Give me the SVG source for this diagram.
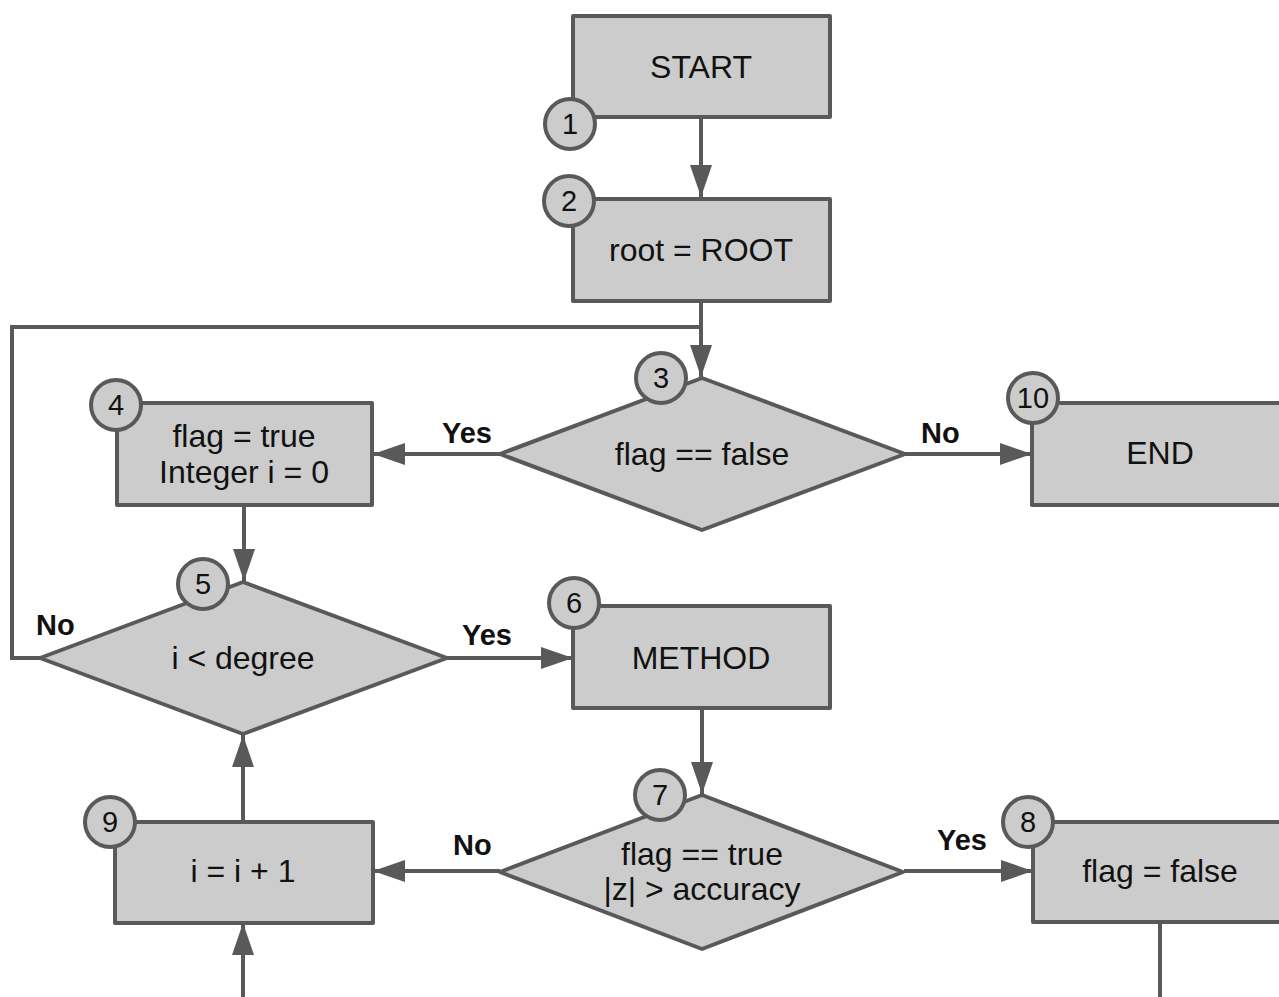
<svg xmlns="http://www.w3.org/2000/svg" width="1279" height="997" viewBox="0 0 1279 997">
  <style>
    .box { fill: #cccccc; stroke: #595959; stroke-width: 4; stroke-linejoin: round; }
    .num { fill: #cccccc; stroke: #595959; stroke-width: 4; }
    .wire { fill: none; stroke: #595959; stroke-width: 4; }
    .lbl { font-family: "Liberation Sans", Arial, sans-serif; font-size: 32px; fill: #111111; text-anchor: middle; }
    .numt { font-family: "Liberation Sans", Arial, sans-serif; font-size: 29px; fill: #111111; text-anchor: middle; }
    .yn { font-family: "Liberation Sans", Arial, sans-serif; font-size: 29px; font-weight: bold; fill: #111111; }
  </style>
  <defs>
    <marker id="arrow" viewBox="0 0 32 22" refX="32" refY="11" markerWidth="32" markerHeight="22" markerUnits="userSpaceOnUse" orient="auto">
      <path d="M0,0 L32,11 L0,22 Z" fill="#595959"/>
    </marker>
  </defs>

  <g id="connectors">
    <!-- START -> root -->
    <path class="wire" d="M701,117 V197" marker-end="url(#arrow)"/>
    <!-- root -> decision 3 -->
    <path class="wire" d="M701,301 V377" marker-end="url(#arrow)"/>
    <!-- decision 5 "No" loop back to decision 3 -->
    <path class="wire" d="M40,658 H12 V327 H701"/>
    <!-- decision 3 Yes -> node 4 -->
    <path class="wire" d="M500,454 H373" marker-end="url(#arrow)"/>
    <!-- decision 3 No -> END -->
    <path class="wire" d="M905,454 H1032" marker-end="url(#arrow)"/>
    <!-- node 4 -> decision 5 -->
    <path class="wire" d="M244,505 V581" marker-end="url(#arrow)"/>
    <!-- decision 5 Yes -> METHOD -->
    <path class="wire" d="M447,658 H573" marker-end="url(#arrow)"/>
    <!-- METHOD -> decision 7 -->
    <path class="wire" d="M702,708 V794" marker-end="url(#arrow)"/>
    <!-- decision 7 Yes -> node 8 -->
    <path class="wire" d="M904,871 H1033" marker-end="url(#arrow)"/>
    <!-- decision 7 No -> node 9 -->
    <path class="wire" d="M500,871 H373" marker-end="url(#arrow)"/>
    <!-- node 9 -> decision 5 -->
    <path class="wire" d="M243,822 V735" marker-end="url(#arrow)"/>
    <!-- node 8 -> node 9 (bottom loop) -->
    <path class="wire" d="M1160,922 V999.5 H243" stroke-width="6"/>
    <path class="wire" d="M243,999.5 V923" marker-end="url(#arrow)"/>
  </g>

  <g id="edge-labels">
    <text class="yn" x="442" y="443">Yes</text>
    <text class="yn" x="921" y="443">No</text>
    <text class="yn" x="36" y="635">No</text>
    <text class="yn" x="462" y="645">Yes</text>
    <text class="yn" x="453" y="855">No</text>
    <text class="yn" x="937" y="850">Yes</text>
  </g>

  <g id="node1">
    <rect class="box" x="573" y="16" width="257" height="101"/>
    <text class="lbl" x="701" y="78">START</text>
    <circle class="num" cx="570" cy="124" r="25"/>
    <text class="numt" x="570" y="134">1</text>
  </g>

  <g id="node2">
    <rect class="box" x="573" y="199" width="257" height="102"/>
    <text class="lbl" x="701" y="261">root = ROOT</text>
    <circle class="num" cx="569" cy="201" r="25"/>
    <text class="numt" x="569" y="211">2</text>
  </g>

  <g id="node3">
    <polygon class="box" points="702,378 905,454 702,530 500,454"/>
    <text class="lbl" x="702" y="465">flag == false</text>
    <circle class="num" cx="661" cy="378" r="25"/>
    <text class="numt" x="661" y="388">3</text>
  </g>

  <g id="node4">
    <rect class="box" x="117" y="403" width="255" height="102"/>
    <text class="lbl" x="244" y="447">flag = true</text>
    <text class="lbl" x="244" y="483">Integer i = 0</text>
    <circle class="num" cx="116" cy="405" r="25"/>
    <text class="numt" x="116" y="415">4</text>
  </g>

  <g id="node5">
    <polygon class="box" points="243,582 447,658 243,734 40,658"/>
    <text class="lbl" x="243" y="669">i &lt; degree</text>
    <circle class="num" cx="203" cy="584" r="25"/>
    <text class="numt" x="203" y="594">5</text>
  </g>

  <g id="node6">
    <rect class="box" x="573" y="606" width="257" height="102"/>
    <text class="lbl" x="701" y="669">METHOD</text>
    <circle class="num" cx="574" cy="603" r="25"/>
    <text class="numt" x="574" y="613">6</text>
  </g>

  <g id="node7">
    <polygon class="box" points="702,795 903,872 702,949 500,872"/>
    <text class="lbl" x="702" y="865">flag == true</text>
    <text class="lbl" x="702" y="900">|z| &gt; accuracy</text>
    <circle class="num" cx="660" cy="795" r="25"/>
    <text class="numt" x="660" y="805">7</text>
  </g>

  <g id="node8">
    <rect class="box" x="1033" y="822" width="257" height="100"/>
    <text class="lbl" x="1160" y="882">flag = false</text>
    <circle class="num" cx="1028" cy="822" r="25"/>
    <text class="numt" x="1028" y="832">8</text>
  </g>

  <g id="node9">
    <rect class="box" x="115" y="822" width="258" height="101"/>
    <text class="lbl" x="243" y="882">i = i + 1</text>
    <circle class="num" cx="110" cy="822" r="25"/>
    <text class="numt" x="110" y="832">9</text>
  </g>

  <g id="node10">
    <rect class="box" x="1032" y="403" width="257" height="102"/>
    <text class="lbl" x="1160" y="464">END</text>
    <circle class="num" cx="1033" cy="398" r="25"/>
    <text class="numt" x="1033" y="408">10</text>
  </g>
</svg>
